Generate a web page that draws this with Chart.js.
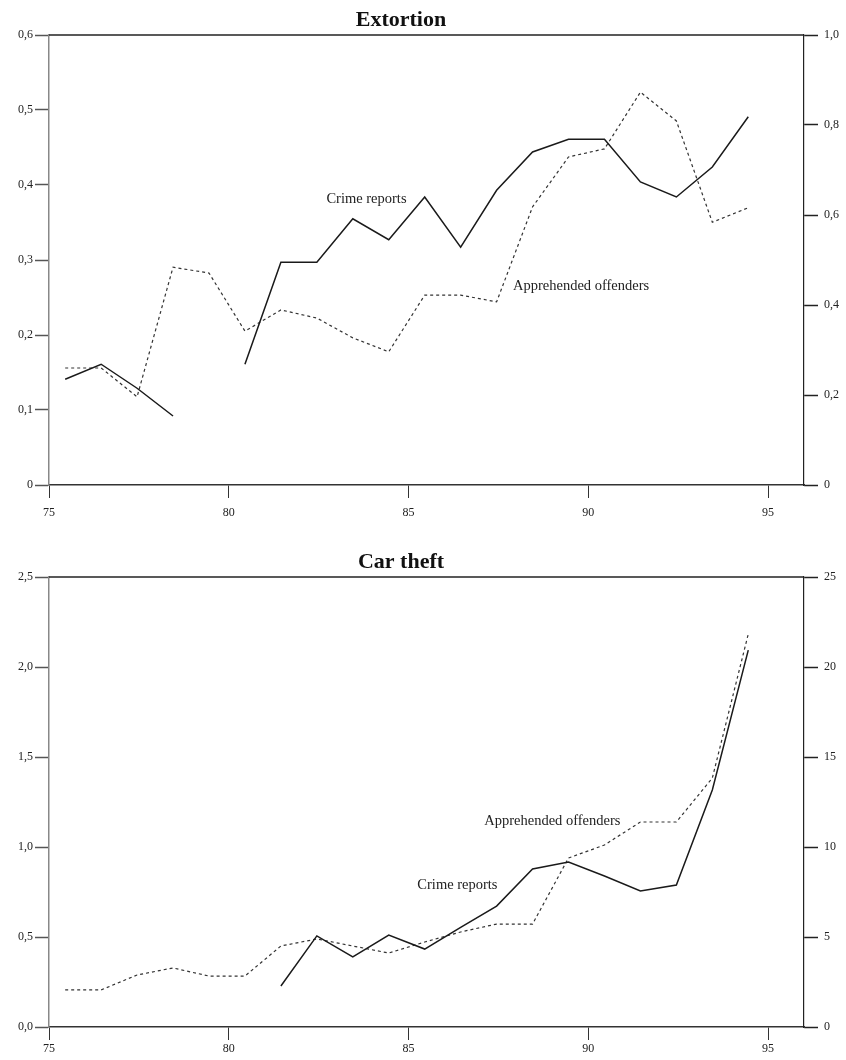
<!DOCTYPE html>
<html>
<head>
<meta charset="utf-8">
<script src="https://cdn.jsdelivr.net/npm/chart.js@4.4.0/dist/chart.umd.min.js"></script>
<style>
  body { margin: 0; background: #fff; }
  canvas { display: block; }
</style>
</head>
<body>
<canvas id="extortion" width="846" height="530"></canvas>
<canvas id="carTheft" width="846" height="530"></canvas>
<script>
// years 1975..1994 (two-digit, as on the axis)
const years = [75, 76, 77, 78, 79, 80, 81, 82, 83, 84, 85, 86, 87, 88, 89, 90, 91, 92, 93, 94];

// Extortion: crime reports (left axis) and apprehended offenders (right axis)
const extortionCrime = [0.141, 0.161, 0.129, 0.092, null, 0.161, 0.297, 0.297, 0.355, 0.327,
                        0.384, 0.317, 0.393, 0.444, 0.461, 0.461, 0.404, 0.384, 0.424, 0.491];
const extortionAppr = [0.26, 0.26, 0.196, 0.484, 0.471, 0.342, 0.389, 0.371, 0.327, 0.296,
                       0.422, 0.422, 0.407, 0.618, 0.729, 0.747, 0.873, 0.809, 0.584, 0.616];

// Car theft: crime reports (left axis) and apprehended offenders (right axis)
const carCrime = [null, null, null, null, null, null, 0.228, 0.506, 0.389, 0.511,
                  0.433, 0.553, 0.672, 0.878, 0.917, 0.839, 0.756, 0.789, 1.317, 2.094];
const carAppr = [2.06, 2.06, 2.89, 3.28, 2.83, 2.83, 4.5, 4.89, 4.5, 4.11,
                 4.72, 5.28, 5.72, 5.72, 9.39, 10.11, 11.39, 11.39, 13.83, 21.83];

// tick values and labels
const xTicks = [75, 80, 85, 90, 95];
const extLeftTicks = [0, 0.1, 0.2, 0.3, 0.4, 0.5, 0.6];
const extLeftLabels = ['0', '0,1', '0,2', '0,3', '0,4', '0,5', '0,6'];
const extRightTicks = [0, 0.2, 0.4, 0.6, 0.8, 1.0];
const extRightLabels = ['0', '0,2', '0,4', '0,6', '0,8', '1,0'];
const carLeftTicks = [0, 0.5, 1.0, 1.5, 2.0, 2.5];
const carLeftLabels = ['0,0', '0,5', '1,0', '1,5', '2,0', '2,5'];
const carRightTicks = [0, 5, 10, 15, 20, 25];
const carRightLabels = ['0', '5', '10', '15', '20', '25'];

const FONT = '"Liberation Serif", "DejaVu Serif", serif';
const xOffset = 0.45; // values sit mid-year

function pts(vals) {
    return years.map((yr, i) => ({ x: yr + xOffset, y: vals[i] }));
}

// draws the frame top line, the title and the series captions
const textPlugin = {
    id: 'texts',
    afterDraw(chart, args, o) {
        const ctx = chart.ctx;
        const a = chart.chartArea;
        ctx.save();
        ctx.strokeStyle = '#222';
        ctx.lineWidth = 1.5;
        ctx.beginPath();
        ctx.moveTo(a.left, a.top);
        ctx.lineTo(a.right, a.top);
        ctx.stroke();

        ctx.fillStyle = '#111';
        ctx.font = 'bold 22px ' + FONT;
        ctx.textAlign = 'center';
        ctx.textBaseline = 'alphabetic';
        ctx.fillText(o.title, o.titleX, a.top - 9);

        ctx.font = '14.5px ' + FONT;
        ctx.fillStyle = '#222';
        ctx.textBaseline = 'middle';
        o.captions.forEach(c => {
            const x = chart.scales.x.getPixelForValue(c.x);
            const y = chart.scales.y.getPixelForValue(c.y);
            ctx.fillText(c.text, x, y);
        });
        ctx.restore();
    }
};

function makeChart(id, s) {
    const ctx = document.getElementById(id).getContext('2d');
    return new Chart(ctx, {
        type: 'line',
        data: {
            datasets: [{
                label: 'Crime reports',
                data: pts(s.crime),
                yAxisID: 'y',
                borderColor: '#1a1a1a',
                borderWidth: 1.5,
                pointRadius: 0,
                tension: 0,
                spanGaps: false
            }, {
                label: 'Apprehended offenders',
                data: pts(s.appr),
                yAxisID: 'y1',
                borderColor: '#333',
                borderWidth: 1.2,
                borderDash: [3, 3],
                pointRadius: 0,
                tension: 0
            }]
        },
        options: {
            responsive: false,
            animation: false,
            devicePixelRatio: 1,
            layout: { padding: { top: s.topPad, left: 0, right: 0, bottom: 0 } },
            plugins: {
                legend: { display: false },
                tooltip: { enabled: false },
                texts: { title: s.title, titleX: 401, captions: s.captions }
            },
            scales: {
                x: {
                    type: 'linear',
                    min: 75,
                    max: 96,
                    afterBuildTicks: sc => { sc.ticks = xTicks.map(v => ({ value: v })); },
                    afterFit: sc => { sc.height = s.xHeight; },
                    grid: { drawOnChartArea: false, tickLength: 13, tickColor: '#333', tickWidth: 1 },
                    border: { color: '#333', width: 1.5 },
                    ticks: {
                        font: { family: FONT, size: 12 },
                        color: '#222',
                        padding: s.xPad,
                        maxRotation: 0,
                        callback: v => String(v)
                    }
                },
                y: {
                    position: 'left',
                    min: 0,
                    max: s.leftTicks[s.leftTicks.length - 1],
                    afterBuildTicks: sc => { sc.ticks = s.leftTicks.map(v => ({ value: v })); },
                    afterFit: sc => { sc.width = 49; },
                    grid: { drawOnChartArea: false, tickLength: 14, tickColor: '#555', tickWidth: 1.5 },
                    border: { color: '#888', width: 1.5 },
                    ticks: {
                        font: { family: FONT, size: 12 },
                        color: '#222',
                        padding: 2,
                        callback: (v, i) => s.leftLabels[i]
                    }
                },
                y1: {
                    position: 'right',
                    min: 0,
                    max: s.rightTicks[s.rightTicks.length - 1],
                    afterBuildTicks: sc => { sc.ticks = s.rightTicks.map(v => ({ value: v })); },
                    afterFit: sc => { sc.width = 42; },
                    grid: { drawOnChartArea: false, tickLength: 14, tickColor: '#222', tickWidth: 1.5 },
                    border: { color: '#222', width: 1.2 },
                    ticks: {
                        font: { family: FONT, size: 12 },
                        color: '#222',
                        padding: 6,
                        callback: (v, i) => s.rightLabels[i]
                    }
                }
            }
        },
        plugins: [textPlugin]
    });
}

makeChart('extortion', {
    title: 'Extortion',
    crime: extortionCrime,
    appr: extortionAppr,
    leftTicks: extLeftTicks, leftLabels: extLeftLabels,
    rightTicks: extRightTicks, rightLabels: extRightLabels,
    topPad: 35, xHeight: 45, xPad: 8,
    captions: [
        { text: 'Crime reports', x: 83.83, y: 0.381 },
        { text: 'Apprehended offenders', x: 89.8, y: 0.265 }
    ]
});

makeChart('carTheft', {
    title: 'Car theft',
    crime: carCrime,
    appr: carAppr,
    leftTicks: carLeftTicks, leftLabels: carLeftLabels,
    rightTicks: carRightTicks, rightLabels: carRightLabels,
    topPad: 47, xHeight: 33, xPad: 2,
    captions: [
        { text: 'Apprehended offenders', x: 89.0, y: 1.144 },
        { text: 'Crime reports', x: 86.36, y: 0.789 }
    ]
});
</script>
</body>
</html>
